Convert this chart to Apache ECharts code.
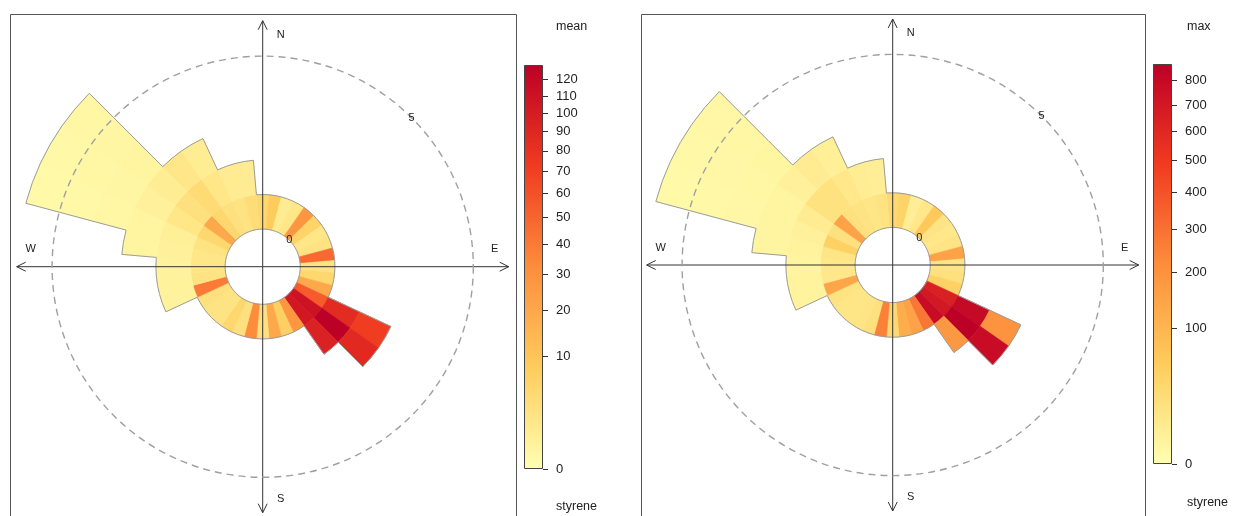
<!DOCTYPE html>
<html><head><meta charset="utf-8">
<script src="https://cdn.jsdelivr.net/npm/echarts@6/dist/echarts.min.js"></script>
<style>html,body{margin:0;padding:0;background:#fff}#c{width:1234px;height:516px}</style>
</head><body><div id="c"></div>
<script>
// ---- data ----
const directions = [0,10,20,30,40,50,60,70,80,90,100,110,120,130,140,150,160,170,180,190,200,210,220,230,240,250,260,270,280,290,300,310,320,330,340,350];
const wsLower = [0,1,2,3,4,5];
const _ = null;
// mean styrene per wind-speed bin (index = direction)
const mean_ws0 = [5,8,1.2,2,28,6,2,2.5,48,2.5,5,20,55,110,105,28,7,20,3,32,3,5,2.5,2.5,3,40,2.5,2,2,2.5,5,20,5,3,2.5,3.5];
const mean_ws1 = [_,_,_,_,_,_,_,_,_,_,_,_,85,129,95,_,_,_,_,_,_,_,_,_,_,0.5,0.5,0.5,0.6,0.8,2,3,4,2,1.2,1.2];
const mean_ws2 = [_,_,_,_,_,_,_,_,_,_,_,_,72,88,_,_,_,_,_,_,_,_,_,_,_,_,_,_,0.3,0.4,0.6,1,1.8,1,_,_];
const mean_ws3 = [_,_,_,_,_,_,_,_,_,_,_,_,_,_,_,_,_,_,_,_,_,_,_,_,_,_,_,_,_,0.2,0.25,0.3,_,_,_,_];
const mean_ws4 = [_,_,_,_,_,_,_,_,_,_,_,_,_,_,_,_,_,_,_,_,_,_,_,_,_,_,_,_,_,0.15,0.2,0.25,_,_,_,_];
const mean_ws5 = [_,_,_,_,_,_,_,_,_,_,_,_,_,_,_,_,_,_,_,_,_,_,_,_,_,_,_,_,_,0.1,0.15,0.2,_,_,_,_];
// max styrene per wind-speed bin
const max_ws0 = [30,40,6,12,60,15,12,15,150,15,20,45,650,700,780,280,150,120,30,250,20,15,14,14,16,140,12,12,14,45,20,150,20,16,14,16];
const max_ws1 = [_,_,_,_,_,_,_,_,_,_,_,_,800,869,180,_,_,_,_,_,_,_,_,_,_,3,3,2.5,3,4,8,18,18,12,7,6];
const max_ws2 = [_,_,_,_,_,_,_,_,_,_,_,_,200,780,_,_,_,_,_,_,_,_,_,_,_,_,_,_,2,2,2.5,4,8,5,_,_];
const max_ws3 = [_,_,_,_,_,_,_,_,_,_,_,_,_,_,_,_,_,_,_,_,_,_,_,_,_,_,_,_,_,1.2,1.5,1.8,_,_,_,_];
const max_ws4 = [_,_,_,_,_,_,_,_,_,_,_,_,_,_,_,_,_,_,_,_,_,_,_,_,_,_,_,_,_,1,1.2,1.5,_,_,_,_];
const max_ws5 = [_,_,_,_,_,_,_,_,_,_,_,_,_,_,_,_,_,_,_,_,_,_,_,_,_,_,_,_,_,0.8,1,1.2,_,_,_,_];
const meanScaleMax = 129;
const maxScaleMax = 869;
const meanTicks = [0,10,20,30,40,50,60,70,80,90,100,110,120];
const maxTicks = [0,100,200,300,400,500,600,700,800];
const compass = ['N','E','S','W'];
const ringLabels = [0,5];
const palette = ['#FFFFB2','#FECC5C','#FD8D3C','#F03B20','#BD0026'];

// ---- build ----
function buildCells(bins){
  const n = directions.length;
  const top = directions.map((d,i)=>{let t=-1; bins.forEach((b,k)=>{ if(b[i]!=null) t=k; }); return t;});
  const rows = [];
  bins.forEach((b,k)=>b.forEach((v,i)=>{
    if(v!=null) rows.push([wsLower[k], directions[i], v, Math.sqrt(v), k, top[(i+n-1)%n], top[i], top[(i+1)%n]]);
  }));
  return rows;
}
const meanCells = buildCells([mean_ws0,mean_ws1,mean_ws2,mean_ws3,mean_ws4,mean_ws5]);
const maxCells = buildCells([max_ws0,max_ws1,max_ws2,max_ws3,max_ws4,max_ws5]);
const HALF = 5, BINW = 1, RMAX = 6.023, RMIN = -1.087;

function cellRender(params, api){
  const cs = params.coordSys, cx = cs.cx, cy = cs.cy;
  const ws = api.value(0), d = api.value(1), k = api.value(4);
  const tPrev = api.value(5), tSelf = api.value(6), tNext = api.value(7);
  const rad = v => { const p = api.coord([v, d]); return Math.hypot(p[0]-cx, p[1]-cy); };
  const ang = a => { const p = api.coord([ws+BINW, (a+360)%360]); return Math.atan2(p[1]-cy, p[0]-cx); };
  const r0 = rad(ws), r1 = rad(ws+BINW);
  let a0 = ang(d-HALF), a1 = ang(d+HALF);
  if (a1 < a0) a1 += 2*Math.PI;
  const color = api.visual('color');
  const ch = [{type:'sector', shape:{cx,cy,r0,r:r1,startAngle:a0,endAngle:a1,clockwise:true},
               style:{fill:color, stroke:color, lineWidth:0.6}}];
  const ls = {stroke:'#9c9c9c', lineWidth:1, fill:null};
  if (k===tSelf) ch.push({type:'arc', shape:{cx,cy,r:r1,startAngle:a0,endAngle:a1,clockwise:true}, style:ls, z2:5});
  if (k===0) ch.push({type:'arc', shape:{cx,cy,r:r0,startAngle:a0,endAngle:a1,clockwise:true}, style:ls, z2:5});
  if (tPrev < k) ch.push({type:'line', shape:{x1:cx+r0*Math.cos(a0),y1:cy+r0*Math.sin(a0),x2:cx+r1*Math.cos(a0),y2:cy+r1*Math.sin(a0)}, style:ls, z2:5});
  if (tNext < k) ch.push({type:'line', shape:{x1:cx+r0*Math.cos(a1),y1:cy+r0*Math.sin(a1),x2:cx+r1*Math.cos(a1),y2:cy+r1*Math.sin(a1)}, style:ls, z2:5});
  return {type:'group', children:ch};
}

const FONT = '"Liberation Sans", Arial, Helvetica, sans-serif';
function decorRender(params, api){
  const cs = params.coordSys, cx = cs.cx, cy = cs.cy;
  const ch = [];
  const axStyle = {stroke:'#333', lineWidth:1, fill:null};
  [0,90,180,270].forEach((a,i)=>{
    const t = api.coord([RMAX, a]);
    const ux = (t[0]-cx), uy = (t[1]-cy), L = Math.hypot(ux,uy);
    const dx = ux/L, dy = uy/L, px = -dy, py = dx;
    ch.push({type:'line', shape:{x1:cx,y1:cy,x2:t[0],y2:t[1]}, style:axStyle});
    ch.push({type:'polyline', shape:{points:[[t[0]-9*dx+4.5*px, t[1]-9*dy+4.5*py],[t[0],t[1]],[t[0]-9*dx-4.5*px, t[1]-9*dy-4.5*py]]}, style:axStyle});
    const along = L-14, side = 18;
    let lx, ly;
    if (a===0 || a===180) { lx = cx + dx*along + side; ly = cy + dy*along; }
    else { lx = cx + dx*along; ly = cy + dy*along - 17.5; }
    ch.push({type:'text', x:lx, y:ly, style:{text:compass[i], fill:'#222', font:'11px '+FONT, align:'center', verticalAlign:'middle'}});
  });
  const c5 = api.coord([ringLabels[1], 0]);
  const r5 = Math.hypot(c5[0]-cx, c5[1]-cy);
  ch.push({type:'circle', shape:{cx,cy,r:r5}, style:{fill:null, stroke:'#a0a0a0', lineWidth:1.4, lineDash:[7,5]}});
  ringLabels.forEach(v=>{
    const p = api.coord([v, 45]);
    ch.push({type:'text', x:p[0], y:p[1], style:{text:String(v), fill:'#222', font:'11px '+FONT, align:'center', verticalAlign:'middle'}});
  });
  return {type:'group', children:ch};
}

function grad(){
  return new echarts.graphic.LinearGradient(0,1,0,0, palette.map((c,i)=>({offset:i/(palette.length-1), color:c})));
}
function cbAxis(idx, maxV, ticks){
  const cv = ticks.map(Math.sqrt);
  return {gridIndex:idx, type:'value', min:0, max:Math.sqrt(maxV), position:'right',
    axisLine:{show:false}, splitLine:{show:false},
    axisTick:{show:true, customValues:cv, length:5, lineStyle:{color:'#333'}},
    axisLabel:{show:true, customValues:cv, margin:13, fontSize:13, color:'#222', fontFamily:FONT,
      formatter: v => String(Math.round(v*v))}};
}

const chart = echarts.init(document.getElementById('c'), null, {renderer:'canvas'});
chart.setOption({
  animation:false,
  backgroundColor:'#fff',
  polar:[{center:[262.7,266.7], radius:246},{center:[892.7,265], radius:246}],
  angleAxis:[
    {polarIndex:0, type:'value', min:0, max:360, startAngle:90, clockwise:true, show:false},
    {polarIndex:1, type:'value', min:0, max:360, startAngle:90, clockwise:true, show:false}],
  radiusAxis:[
    {polarIndex:0, type:'value', min:RMIN, max:RMAX, show:false},
    {polarIndex:1, type:'value', min:RMIN, max:RMAX, show:false}],
  grid:[{left:524, top:65, width:19, height:404},{left:1153, top:64, width:19, height:400}],
  xAxis:[{gridIndex:0, type:'category', data:['c'], show:false},{gridIndex:1, type:'category', data:['c'], show:false}],
  yAxis:[cbAxis(0, meanScaleMax, meanTicks), cbAxis(1, maxScaleMax, maxTicks)],
  visualMap:[
    {type:'continuous', show:false, seriesIndex:0, dimension:3, min:0, max:Math.sqrt(meanScaleMax), inRange:{color:palette}},
    {type:'continuous', show:false, seriesIndex:1, dimension:3, min:0, max:Math.sqrt(maxScaleMax), inRange:{color:palette}}],
  series:[
    {type:'custom', coordinateSystem:'polar', polarIndex:0, data:meanCells, renderItem:cellRender, silent:true, z:2},
    {type:'custom', coordinateSystem:'polar', polarIndex:1, data:maxCells, renderItem:cellRender, silent:true, z:2},
    {type:'custom', coordinateSystem:'polar', polarIndex:0, data:[[0,0]], renderItem:decorRender, silent:true, z:5},
    {type:'custom', coordinateSystem:'polar', polarIndex:1, data:[[0,0]], renderItem:decorRender, silent:true, z:5},
    {type:'bar', xAxisIndex:0, yAxisIndex:0, data:[Math.sqrt(meanScaleMax)], barWidth:'100%', silent:true,
      itemStyle:{color:grad(), borderColor:'#444', borderWidth:1}},
    {type:'bar', xAxisIndex:1, yAxisIndex:1, data:[Math.sqrt(maxScaleMax)], barWidth:'100%', silent:true,
      itemStyle:{color:grad(), borderColor:'#444', borderWidth:1}}
  ],
  graphic:[
    {type:'rect', shape:{x:10.5,y:14.5,width:506,height:530}, style:{fill:null, stroke:'#555', lineWidth:1}, silent:true},
    {type:'rect', shape:{x:641.5,y:14.5,width:504,height:530}, style:{fill:null, stroke:'#555', lineWidth:1}, silent:true},
    {type:'text', x:556, y:27, style:{text:'mean', fill:'#222', font:'12.5px '+FONT, verticalAlign:'middle'}},
    {type:'text', x:556, y:507, style:{text:'styrene', fill:'#222', font:'12.5px '+FONT, verticalAlign:'middle'}},
    {type:'text', x:1187, y:27, style:{text:'max', fill:'#222', font:'12.5px '+FONT, verticalAlign:'middle'}},
    {type:'text', x:1187, y:503, style:{text:'styrene', fill:'#222', font:'12.5px '+FONT, verticalAlign:'middle'}}
  ]
});
</script></body></html>
